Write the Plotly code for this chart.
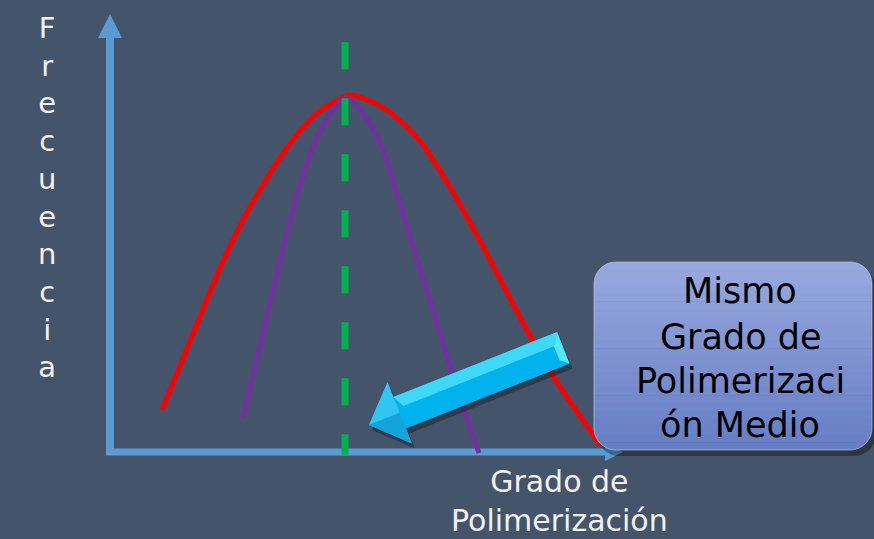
import math
import plotly.graph_objects as go

# ---------------- data (chart units) ----------------
# x: grado de polimerización (arbitrary units), y: frecuencia (peak = 100)
red_x = [10.4, 14.0, 18.0, 22.0, 26.0, 30.0, 34.0, 38.0, 42.0, 46.0, 48.0,
         52.0, 56.0, 62.0, 68.0, 74.0, 80.0, 85.0, 89.6, 94.0, 98.0]
red_y = [11.8, 24.1, 37.8, 51.5, 63.3, 73.4, 82.4, 89.9, 95.5, 98.9, 100.0,
         98.3, 95.2, 87.1, 74.2, 59.1, 43.1, 30.0, 19.1, 10.1, 2.0]

purple_x = [26.6, 30.0, 33.4, 36.6, 40.0, 43.4, 46.0, 47.2,
            50.0, 52.4, 54.4, 57.4, 60.6, 64.0, 67.4, 70.6, 73.8]
purple_y = [9.5, 29.7, 49.9, 67.8, 83.2, 93.3, 98.0, 99.2,
            95.8, 91.0, 85.4, 72.3, 57.7, 42.3, 26.9, 12.9, -0.3]

mean_x = 47.0
mean_y = [114.8, -0.8]

y_title_letters = list("Frecuencia")
x_title_lines = ["Grado de", "Polimerización"]
box_lines = ["Mismo", "Grado de", "Polimerizaci", "ón Medio"]

# ---------------- layout helpers ----------------
W, H = 874, 539
BG = "#44546A"
AXIS = "#5B9BD5"
FONT = "DejaVu Sans"


def P(px, py):
    return px / W, 1 - py / H


def path_from(points):
    pts = [P(x, y) for x, y in points]
    s = "M %.5f %.5f " % pts[0]
    s += " ".join("L %.5f %.5f" % p for p in pts[1:])
    return s + " Z"


def rr_points(L, T, R, B, r, n=10):
    pts = []
    corners = [(R - r, T + r, -90, 0), (R - r, B - r, 0, 90),
               (L + r, B - r, 90, 180), (L + r, T + r, 180, 270)]
    for cx, cy, a0, a1 in corners:
        for i in range(n + 1):
            a = math.radians(a0 + (a1 - a0) * i / n)
            pts.append((cx + r * math.cos(a), cy + r * math.sin(a)))
    return pts


def rr_x(y, L, T, R, B, r):
    if y < T + r:
        d = T + r - y
    elif y > B - r:
        d = y - (B - r)
    else:
        d = 0
    d = min(d, r)
    off = r - math.sqrt(max(r * r - d * d, 0))
    return L + off, R - off


shapes = []

# axes arrows
shapes.append(dict(type="line", xref="paper", yref="paper",
                   x0=P(110, 455)[0], y0=P(110, 455)[1], x1=P(110, 36)[0], y1=P(110, 36)[1],
                   line=dict(color=AXIS, width=8), layer="below"))
shapes.append(dict(type="path", xref="paper", yref="paper",
                   path=path_from([(98, 38), (122, 38), (110, 14)]),
                   fillcolor=AXIS, line=dict(width=0), layer="below"))
shapes.append(dict(type="line", xref="paper", yref="paper",
                   x0=P(106, 452)[0], y0=P(106, 452)[1], x1=P(607, 452)[0], y1=P(607, 452)[1],
                   line=dict(color=AXIS, width=7), layer="below"))
shapes.append(dict(type="path", xref="paper", yref="paper",
                   path=path_from([(605, 443), (605, 461), (623, 452)]),
                   fillcolor=AXIS, line=dict(width=0), layer="below"))

# callout box with shadow and vertical gradient
L, T, R, B, r = 594, 262, 872, 450, 22
shapes.append(dict(type="path", xref="paper", yref="paper",
                   path=path_from(rr_points(L + 3, T + 5, R + 4, B + 6, r)),
                   fillcolor="rgba(0,0,0,0.35)", line=dict(width=0), layer="above"))
top_c = (152, 168, 222)
bot_c = (102, 126, 196)
nstrips = 24
for k in range(nstrips):
    y0 = T + (B - T) * k / nstrips
    y1 = T + (B - T) * (k + 1) / nstrips + 0.6
    y1 = min(y1, B)
    t = k / (nstrips - 1)
    col = tuple(int(round(top_c[i] + (bot_c[i] - top_c[i]) * t)) for i in range(3))
    ys = [y0 + (y1 - y0) * j / 8 for j in range(9)]
    left = [(rr_x(y, L, T, R, B, r)[0], y) for y in ys]
    right = [(rr_x(y, L, T, R, B, r)[1], y) for y in reversed(ys)]
    shapes.append(dict(type="path", xref="paper", yref="paper",
                       path=path_from(left + right),
                       fillcolor="rgb(%d,%d,%d)" % col, line=dict(width=0), layer="above"))
shapes.append(dict(type="path", xref="paper", yref="paper",
                   path=path_from(rr_points(L, T, R, B, r)),
                   fillcolor="rgba(0,0,0,0)", line=dict(color="rgba(200,210,240,0.6)", width=1),
                   layer="above"))

# cyan 3D block arrow
TIP = (369, 425)
ux, uy = 0.9296, -0.369
nx, ny = 0.369, 0.9296


def A(a, b, dx=0, dy=0):
    return (TIP[0] + a * ux + b * nx + dx, TIP[1] + a * uy + b * ny + dy)


outline_ab = [(0, 0), (33, -33), (33, -17), (209, -17), (209, 17), (33, 17), (33, 33)]
shapes.append(dict(type="path", xref="paper", yref="paper",
                   path=path_from([A(a, b, 3, 5) for a, b in outline_ab]),
                   fillcolor="rgba(0,0,0,0.3)", line=dict(width=0), layer="above"))
shapes.append(dict(type="path", xref="paper", yref="paper",
                   path=path_from([A(a, b) for a, b in outline_ab]),
                   fillcolor="#00B2EE", line=dict(width=0), layer="above"))
shapes.append(dict(type="path", xref="paper", yref="paper",
                   path=path_from([A(0, 0), A(33, -33), A(33, 0)]),
                   fillcolor="#30C6F2", line=dict(width=0), layer="above"))
shapes.append(dict(type="path", xref="paper", yref="paper",
                   path=path_from([A(0, 0), A(33, 0), A(33, 33)]),
                   fillcolor="#12A4DA", line=dict(width=0), layer="above"))
shapes.append(dict(type="path", xref="paper", yref="paper",
                   path=path_from([A(33, -17), A(209, -17), A(201, -5), A(39, -5)]),
                   fillcolor="#3ED8F8", line=dict(width=0), layer="above"))
shapes.append(dict(type="path", xref="paper", yref="paper",
                   path=path_from([A(201, -5), A(209, -17), A(209, 17), A(201, 10)]),
                   fillcolor="#52E6FF", line=dict(width=0), layer="above"))

# ---------------- figure ----------------
fig = go.Figure()
fig.add_trace(go.Scatter(x=red_x, y=red_y, mode="lines",
                         line=dict(color="#FF0000", width=5, shape="spline", smoothing=0.8),
                         hoverinfo="skip", showlegend=False))
fig.add_trace(go.Scatter(x=purple_x, y=purple_y, mode="lines",
                         line=dict(color="#7030A0", width=5, shape="spline", smoothing=0.8),
                         hoverinfo="skip", showlegend=False))
fig.add_trace(go.Scatter(x=[mean_x, mean_x], y=mean_y, mode="lines",
                         line=dict(color="#00B050", width=7, dash="27px,29px"),
                         hoverinfo="skip", showlegend=False))

annotations = []
annotations.append(dict(xref="paper", yref="paper", x=P(47, 0)[0], y=P(0, 198)[1],
                        text="<br>".join(y_title_letters), showarrow=False,
                        xanchor="center", yanchor="middle", align="center",
                        font=dict(family=FONT, size=29, color="#F2F2F2")))
annotations.append(dict(xref="paper", yref="paper", x=P(559, 0)[0], y=0,
                        text="<br>".join(x_title_lines), showarrow=False,
                        xanchor="center", yanchor="bottom", align="center", borderpad=0,
                        font=dict(family=FONT, size=30, color="#F2F2F2")))
for txt, yy in zip(box_lines, [291, 337, 381, 425]):
    annotations.append(dict(xref="paper", yref="paper", x=P(740, 0)[0], y=P(0, yy)[1],
                            text=txt, showarrow=False, xanchor="center", yanchor="middle",
                            font=dict(family=FONT, size=35, color="#000000")))

fig.update_layout(
    width=W, height=H,
    margin=dict(l=0, r=0, t=0, b=0),
    paper_bgcolor=BG, plot_bgcolor=BG,
    xaxis=dict(range=[-110 / 5, (W - 110) / 5], visible=False, fixedrange=True),
    yaxis=dict(range=[(452 - H) / 3.57, 452 / 3.57], visible=False, fixedrange=True),
    shapes=shapes, annotations=annotations,
    showlegend=False,
)

fig.write_html("out.html", config={"displayModeBar": False},
               post_script="document.body.style.margin='0';document.body.style.overflow='hidden';")
